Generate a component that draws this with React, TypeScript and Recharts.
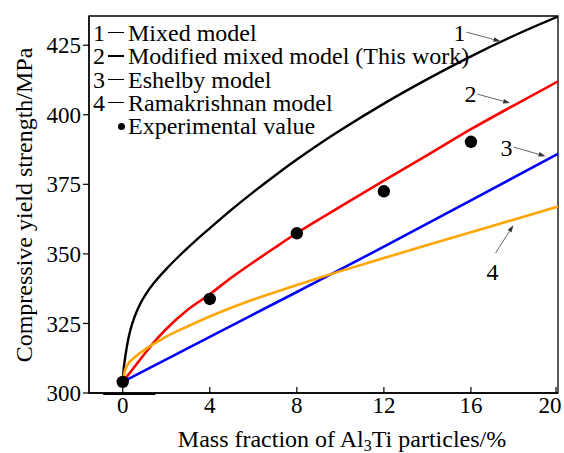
import React from "react";
import {
  ComposedChart,
  Line,
  Scatter,
  XAxis,
  YAxis,
  ReferenceArea,
  ReferenceLine,
  Legend
} from "recharts";

const FONT = "Liberation Serif, Times New Roman, serif";

// axis ranges
const X_MIN = -1.55;
const X_MAX = 20;
const Y_MIN = 300;
const Y_MAX = 435.5;
const X_TICKS = [0, 4, 8, 12, 16, 20];
const Y_TICKS = [300, 325, 350, 375, 400, 425];

const MODEL_NAMES = ["Mixed model", "Modified mixed model (This work)", "Eshelby model", "Ramakrishnan model"];
const EXP_LABEL = "Experimental value";

// 1 - mixed model
const mixedX = [0, 0.02, 0.05, 0.12, 0.22, 0.35, 0.55, 0.8, 1.1, 1.42, 2.03, 2.64, 3.3, 4, 5, 6, 7, 8, 9, 10, 12, 14, 16, 18, 20];
const mixedY = [304, 306.5, 309, 313.2, 318, 322.6, 327.5, 332, 336, 339.4, 344.8, 349.6, 354.4, 359.2, 365.9, 372.2, 378.2, 383.9, 389.3, 394.4, 404, 412.8, 421, 428.5, 435.3];

// 2 - modified mixed model
const modifiedX = [0, 0.5, 1, 1.5, 2, 3, 4, 5, 6, 7, 8, 10, 12, 14, 16, 18, 20];
const modifiedY = [304, 309, 314, 318.8, 323, 330, 335.5, 341.5, 347, 352.3, 357.5, 367, 376.3, 385.5, 394.8, 403.5, 412];

// 3 - Eshelby model
const eshelbyX = [0, 4, 8, 10, 12, 16, 20];
const eshelbyY = [304, 320.2, 336.3, 344.4, 352.6, 369.2, 386];

// 4 - Ramakrishnan model
const ramaX = [0, 0.1, 0.25, 0.5, 1, 1.5, 2, 3, 4, 6, 8, 10, 12, 14, 16, 18, 20];
const ramaY = [304, 308, 310.5, 312.5, 315.5, 318, 320.3, 324, 327.5, 333.6, 338.8, 343.8, 348.5, 353.2, 357.8, 362.4, 367];

// experimental values
const expX = [0, 4, 8, 12, 16];
const expY = [304, 333.8, 357.4, 372.5, 390.3];

const toRows = (xs: number[], ys: number[]) => xs.map((x, i) => ({ x, y: ys[i] }));

const SERIES = [
  { name: MODEL_NAMES[0], data: toRows(mixedX, mixedY), color: "#000000", width: 2.4 },
  { name: MODEL_NAMES[1], data: toRows(modifiedX, modifiedY), color: "#ff0000", width: 2.6 },
  { name: MODEL_NAMES[2], data: toRows(eshelbyX, eshelbyY), color: "#0000ff", width: 2.6 },
  { name: MODEL_NAMES[3], data: toRows(ramaX, ramaY), color: "#ffa500", width: 2.6 }
];

// numbered arrows pointing at the curves (data units)
const ARROWS = [
  { label: "1", from: { x: 15.79, y: 429.7 }, to: { x: 17.36, y: 426.4 }, dx: -1, dy: 9, anchor: "end" },
  { label: "2", from: { x: 16.3, y: 407.4 }, to: { x: 17.8, y: 404.2 }, dx: -1, dy: 8, anchor: "end" },
  { label: "3", from: { x: 17.95, y: 388.4 }, to: { x: 19.43, y: 385.1 }, dx: -1, dy: 9, anchor: "end" },
  { label: "4", from: { x: 17.13, y: 350.3 }, to: { x: 17.95, y: 360.3 }, dx: -3, dy: 27, anchor: "middle" }
];

function arrowShape(label: string, dx: number, dy: number, anchor: string) {
  return (p: any) => {
    const { x1, y1, x2, y2 } = p;
    const ang = Math.atan2(y2 - y1, x2 - x1);
    const len = 7;
    const hw = 2.3;
    const bx = x2 - len * Math.cos(ang);
    const by = y2 - len * Math.sin(ang);
    const px = -Math.sin(ang) * hw;
    const py = Math.cos(ang) * hw;
    return (
      <g>
        <line x1={x1} y1={y1} x2={bx} y2={by} stroke="#555" strokeWidth={0.9} />
        <polygon points={`${x2},${y2} ${bx + px},${by + py} ${bx - px},${by - py}`} fill="#333" />
        <text x={x1 + dx} y={y1 + dy} textAnchor={anchor} fontFamily={FONT} fontSize={24} fill="#000">
          {label}
        </text>
      </g>
    );
  };
}

const XTick = (p: any) => {
  const { x, y, payload } = p;
  // last label is pulled in so it stays inside the picture
  const tx = Math.min(x, 550);
  return (
    <g>
      <line x1={x} x2={x} y1={y} y2={y - 6} stroke="#000" strokeWidth={1.2} />
      <text x={tx} y={y + 20} textAnchor="middle" fontFamily={FONT} fontSize={23} fill="#000">
        {payload.value}
      </text>
    </g>
  );
};

const XTitle = (p: any) => {
  const vb = p.viewBox;
  return (
    <text x={vb.x + vb.width / 2 + 18.5} y={vb.y + 54} textAnchor="middle" fontFamily={FONT} fontSize={24} fill="#000">
      <tspan>Mass fraction of Al</tspan>
      <tspan dy={4} fontSize={16}>3</tspan>
      <tspan dy={-4}>Ti particles/%</tspan>
    </text>
  );
};

const YTitle = (p: any) => {
  const vb = p.viewBox;
  const cx = vb.x + 31.5;
  const cy = vb.y + vb.height / 2 + 0.5;
  return (
    <text x={cx} y={cy} transform={`rotate(-90, ${cx}, ${cy})`} textAnchor="middle" fontFamily={FONT} fontSize={24} fill="#000">
      Compressive yield strength/MPa
    </text>
  );
};

const LegendBox = () => (
  <div style={{ fontFamily: FONT, fontSize: 24, lineHeight: "23.3px", color: "#000" }}>
    {MODEL_NAMES.map((name, i) => (
      <div key={name} style={{ display: "flex", alignItems: "center", whiteSpace: "nowrap" }}>
        <span style={{ width: 12 }}>{i + 1}</span>
        <span style={{ width: 16, height: 1.3, background: "#000", margin: "0 4px 0 3px", position: "relative", top: -1 }} />
        <span>{name}</span>
      </div>
    ))}
    <div style={{ display: "flex", alignItems: "center", whiteSpace: "nowrap" }}>
      <span style={{ width: 7, height: 7, borderRadius: "50%", background: "#000", marginLeft: 24.5, marginRight: 3.5 }} />
      <span>{EXP_LABEL}</span>
    </div>
  </div>
);

export default function App() {
  return (
    <div style={{ position: "absolute", left: 0, top: 0, width: 564, height: 453, background: "#fff", fontFamily: FONT }}>
      <ComposedChart width={564} height={453} margin={{ top: 16, right: 6, bottom: 0, left: 0 }}>
        <XAxis
          type="number"
          dataKey="x"
          domain={[X_MIN, X_MAX]}
          ticks={X_TICKS}
          allowDataOverflow
          height={60}
          tickSize={0}
          tickMargin={0}
          tickLine={false}
          tick={<XTick />}
          axisLine={{ stroke: "#000", strokeWidth: 1.3 }}
          label={{ content: (p: any) => <XTitle {...p} /> }}
        />
        <YAxis
          type="number"
          domain={[Y_MIN, Y_MAX]}
          ticks={Y_TICKS}
          allowDataOverflow
          width={89}
          tickSize={6}
          tickMargin={2}
          tick={{ fontFamily: FONT, fontSize: 23, fill: "#000" }}
          tickLine={{ stroke: "#000", strokeWidth: 1.2 }}
          axisLine={{ stroke: "#000", strokeWidth: 1.3 }}
          label={{ content: (p: any) => <YTitle {...p} /> }}
        />
        <ReferenceArea x1={X_MIN} x2={X_MAX} y1={Y_MIN} y2={Y_MAX} fill="none" stroke="#000" strokeWidth={1.3} ifOverflow="visible" />
        <ReferenceLine
          segment={[{ x: -0.9, y: 299.6 }, { x: 1.5, y: 299.6 }]}
          stroke="#000"
          strokeWidth={2}
          ifOverflow="visible"
        />
        {SERIES.map((s) => (
          <Line
            key={s.name}
            data={s.data}
            dataKey="y"
            name={s.name}
            type="monotone"
            stroke={s.color}
            strokeWidth={s.width}
            dot={false}
            activeDot={false}
            isAnimationActive={false}
          />
        ))}
        <Scatter
          data={toRows(expX, expY)}
          dataKey="y"
          name={EXP_LABEL}
          fill="#000"
          isAnimationActive={false}
          shape={(p: any) => <circle cx={p.cx} cy={p.cy} r={6.2} fill="#000" />}
        />
        {ARROWS.map((a) => (
          <ReferenceLine
            key={a.label}
            segment={[a.from, a.to]}
            ifOverflow="visible"
            shape={arrowShape(a.label, a.dx, a.dy, a.anchor)}
          />
        ))}
        <Legend
          content={() => <LegendBox />}
          layout="vertical"
          align="center"
          verticalAlign="middle"
          wrapperStyle={{ left: 93, top: 22, width: 420 }}
        />
      </ComposedChart>
    </div>
  );
}
